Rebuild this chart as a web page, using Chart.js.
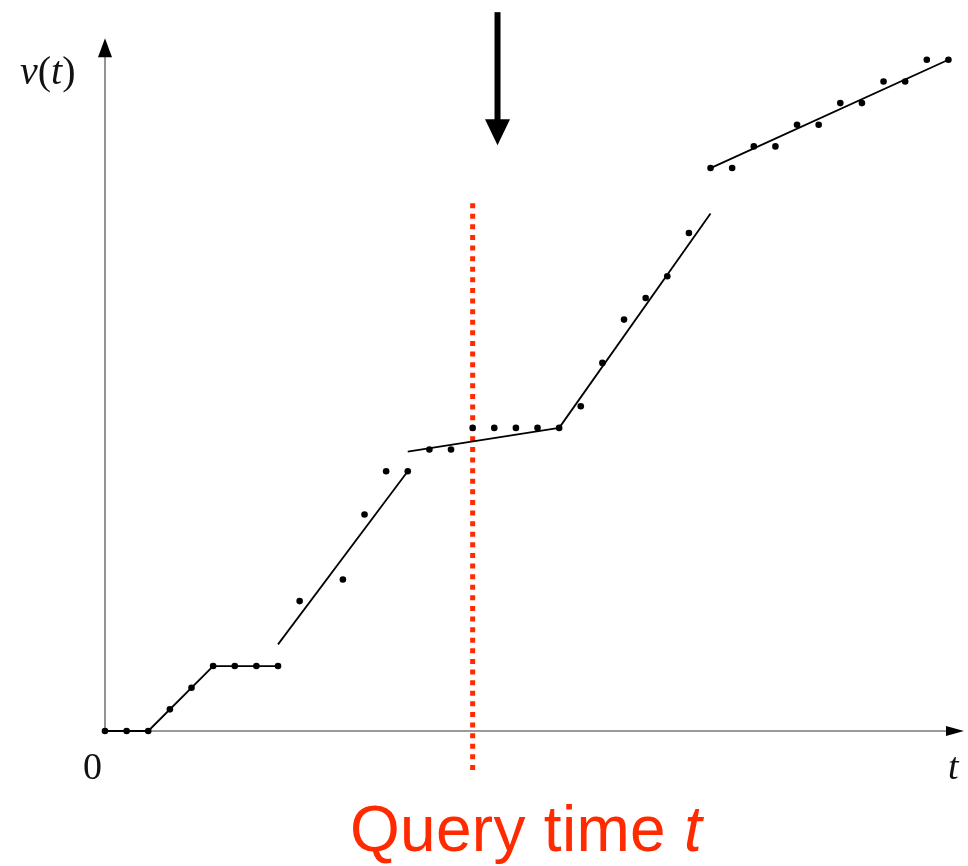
<!DOCTYPE html>
<html>
<head>
<meta charset="utf-8">
<script src="https://cdn.jsdelivr.net/npm/chart.js@4"></script>
<style>
  body { margin:0; background:#fff; }
  #wrap { position:relative; width:968px; height:866px; }
  .lbl { position:absolute; line-height:1; white-space:nowrap; font-family:"Liberation Serif", serif; color:#111; }
  .lbl i { font-style:italic; }
  #query { position:absolute; line-height:1; white-space:nowrap; font-family:"Liberation Sans", Arial, sans-serif; color:#ff2a00; font-size:64px; letter-spacing:0.3px; }
</style>
</head>
<body>
<div id="wrap">
  <canvas id="chart" width="968" height="866"></canvas>
  <div class="lbl" style="left:20px;top:51px;font-size:40px"><i>v</i>(<i>t</i>)</div>
  <div class="lbl" style="left:83px;top:747px;font-size:38px">0</div>
  <div class="lbl" style="left:948px;top:747px;font-size:38px"><i>t</i></div>
  <div id="query" style="left:350px;top:797px">Query time <i>t</i></div>
</div>
<script>
// --- data (grid units: one step in t per sample) ---
const sampleT = [0,1,2,3,4,5,6,7,8,9,10,11,12,13,14,15,16,17,18,19,20,21,22,23,24,25,26,27,28,29,30,31,32,33,34,35,36,37,38,39];
const sampleV = [0,0,0,1,2,3,3,3,3,6,null,7,10,12,12,13,13,14,14,14,14,14,15,17,19,20,21,23,26,26,27,27,28,28,29,29,30,30,31,31];

// piecewise linear fit, one array per segment
const seg1 = [[0,0],[2,0],[5,3],[8,3]];
const seg2 = [[8,4],[14,12]];
const seg3 = [[14,12.9],[21,14]];
const seg4 = [[21,14],[28,23.9]];
const seg5 = [[28,26],[39,31]];

const queryT = 17;
const queryRange = [-1.8, 24.4];
const arrowT = 18.15;
const arrowRange = [33.2, 27.05];   // top of shaft, tip
const axisEnd = { t:39.72, v:32 };

const pts = a => a.map(p => ({x:p[0], y:p[1]}));
const segs = [seg1, seg2, seg3, seg4, seg5];

const decor = {
  id:'decor',
  beforeDatasetsDraw(chart) {
    const {ctx, scales:{x, y}} = chart;
    const x0 = x.getPixelForValue(0), y0 = y.getPixelForValue(0);
    const xe = x.getPixelForValue(axisEnd.t), ye = y.getPixelForValue(axisEnd.v);
    ctx.save();
    ctx.strokeStyle = '#7a7a7a'; ctx.lineWidth = 1.6;
    ctx.beginPath();
    ctx.moveTo(x0, y0); ctx.lineTo(xe - 15, y0);
    ctx.moveTo(x0, y0); ctx.lineTo(x0, ye + 16);
    ctx.stroke();
    ctx.fillStyle = '#000';
    ctx.beginPath(); ctx.moveTo(xe, y0); ctx.lineTo(xe - 18, y0 - 5); ctx.lineTo(xe - 18, y0 + 5); ctx.closePath(); ctx.fill();
    ctx.beginPath(); ctx.moveTo(x0, ye); ctx.lineTo(x0 - 7, ye + 19); ctx.lineTo(x0 + 7, ye + 19); ctx.closePath(); ctx.fill();
    ctx.restore();
  },
  afterDatasetsDraw(chart) {
    const {ctx, scales:{x, y}} = chart;
    const ax = x.getPixelForValue(arrowT);
    const top = y.getPixelForValue(arrowRange[0]), tip = y.getPixelForValue(arrowRange[1]);
    ctx.save();
    ctx.fillStyle = '#000';
    ctx.fillRect(ax - 3, top, 6, tip - top - 24);
    ctx.beginPath(); ctx.moveTo(ax, tip); ctx.lineTo(ax - 12.5, tip - 26); ctx.lineTo(ax + 12.5, tip - 26); ctx.closePath(); ctx.fill();
    ctx.restore();
  }
};

const datasets = [
  { data: [{x:queryT, y:queryRange[0]}, {x:queryT, y:queryRange[1]}], showLine:true, pointRadius:0,
    borderColor:'#ff2a00', borderWidth:5, borderDash:[5,5.6], clip:false, order:3 },
  ...segs.map(s => ({ data: pts(s), showLine:true, pointRadius:0, borderColor:'#000', borderWidth:1.8, clip:false, order:2 })),
  { data: sampleT.map((t,i) => ({x:t, y:sampleV[i]})).filter(p => p.y !== null), showLine:false,
    pointRadius:3.3, pointBackgroundColor:'#000', pointBorderWidth:0, clip:false, order:1 }
];

new Chart(document.getElementById('chart'), {
  type:'scatter',
  data:{ datasets },
  options:{
    responsive:false, animation:false,
    layout:{ padding:{ left:105, right:0, top:10, bottom:135 } },
    scales:{
      x:{ type:'linear', min:0, max:39.72, display:false },
      y:{ type:'linear', min:0, max:33.3, display:false }
    },
    plugins:{ legend:{display:false}, tooltip:{enabled:false} }
  },
  plugins:[decor]
});
</script>
</body>
</html>
